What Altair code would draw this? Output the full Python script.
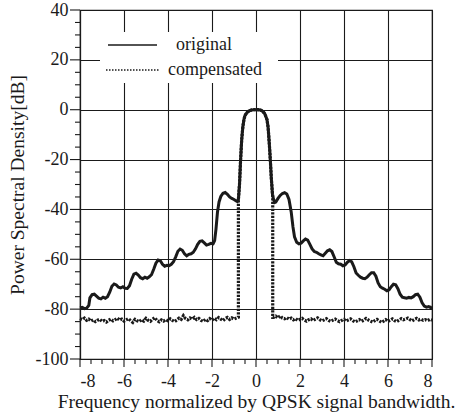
import altair as alt
import pandas as pd

# Power spectral density of the original signal (dB) vs normalized frequency
orig_freq = [
    -8.0, -7.9, -7.8, -7.7, -7.6, -7.55, -7.45, -7.35, -7.25, -7.15, -7.05, -6.95, -6.85,
    -6.75, -6.65, -6.55, -6.45, -6.35, -6.25, -6.15, -6.05, -5.95, -5.85, -5.75, -5.65,
    -5.55, -5.45, -5.35, -5.25, -5.15, -5.05, -4.95, -4.85, -4.75, -4.65, -4.55, -4.45,
    -4.35, -4.25, -4.15, -4.05, -3.95, -3.85, -3.75, -3.65, -3.55, -3.45, -3.35, -3.25,
    -3.15, -3.05, -2.95, -2.85, -2.75, -2.65, -2.55, -2.45, -2.35, -2.25, -2.15, -2.05,
    -1.95, -1.88, -1.82, -1.75, -1.68, -1.6, -1.5, -1.4, -1.3, -1.2, -1.1, -1.0, -0.9,
    -0.85, -0.8, -0.75, -0.7, -0.65, -0.6, -0.55, -0.5, -0.4, -0.3, -0.2, -0.1, 0.0,
    0.1, 0.2, 0.3, 0.4, 0.5, 0.55, 0.6, 0.65, 0.7, 0.75, 0.8, 0.85, 0.9, 1.0, 1.1, 1.2,
    1.3, 1.4, 1.5, 1.6, 1.68, 1.75, 1.85, 1.95, 2.05, 2.15, 2.25, 2.35, 2.45, 2.55, 2.65,
    2.75, 2.85, 2.95, 3.05, 3.15, 3.25, 3.35, 3.45, 3.55, 3.65, 3.75, 3.85, 3.95, 4.05,
    4.15, 4.25, 4.35, 4.45, 4.55, 4.65, 4.75, 4.85, 4.95, 5.05, 5.15, 5.25, 5.35, 5.45,
    5.55, 5.65, 5.75, 5.85, 5.95, 6.05, 6.15, 6.25, 6.35, 6.45, 6.55, 6.65, 6.75, 6.85,
    6.95, 7.05, 7.15, 7.25, 7.35, 7.45, 7.55, 7.65, 7.75, 7.85, 7.95, 8.0,
]
orig_db = [
    -79.5, -79.3, -79.8, -79.6, -78.5, -75.5, -74.2, -74.0, -74.8, -75.6, -75.9, -75.2, -75.6,
    -75.0, -73.2, -70.8, -69.9, -70.3, -71.2, -71.5, -71.0, -71.6, -71.7, -70.6, -68.0,
    -66.0, -65.6, -66.3, -67.4, -67.8, -67.2, -67.6, -67.0, -66.2, -64.0, -61.6, -60.3,
    -60.6, -62.0, -62.8, -62.4, -62.6, -62.0, -61.0, -59.0, -56.8, -55.9, -56.4, -57.8,
    -58.6, -58.0, -57.8, -57.2, -55.8, -54.0, -52.8, -52.6, -53.4, -54.3, -54.0, -53.6,
    -53.8, -52.5, -48.0, -41.0, -37.0, -34.8, -33.5, -33.2, -33.9, -35.0, -35.6, -36.0, -36.6,
    -36.8, -36.0, -30.0, -20.0, -12.0, -7.0, -4.0, -2.3, -1.0, -0.4, -0.1, 0.0, 0.0,
    0.0, -0.1, -0.6, -1.6, -4.0, -7.0, -13.0, -20.0, -28.0, -34.0, -36.0, -37.2, -37.0, -35.6, -34.4, -33.6,
    -33.3, -33.8, -36.0, -41.0, -47.0, -51.0, -53.2, -53.8, -53.5, -52.6, -51.9, -52.3, -54.0, -55.8, -56.9,
    -57.2, -57.8, -58.2, -58.6, -57.6, -56.6, -56.2, -56.9, -59.0, -61.2, -61.8, -62.0, -62.6, -62.3,
    -61.2, -60.5, -61.0, -63.0, -65.5, -66.4, -67.2, -67.6, -67.8, -67.2, -66.2, -65.4, -65.4, -66.8,
    -69.5, -71.0, -71.6, -72.0, -72.6, -72.2, -71.0, -70.0, -70.2, -71.8, -74.0, -75.2, -75.4, -75.6,
    -75.3, -75.5, -75.0, -74.2, -74.0, -75.2, -77.5, -78.8, -79.2, -79.0, -79.4, -79.0,
]

# Compensated signal: residual floor outside the main lobe
comp_left_freq = [
    -8.0, -7.9, -7.8, -7.7, -7.6, -7.5, -7.4, -7.3, -7.2, -7.1,
    -7.0, -6.9, -6.8, -6.7, -6.6, -6.5, -6.4, -6.3, -6.2, -6.1,
    -6.0, -5.9, -5.8, -5.7, -5.6, -5.5, -5.4, -5.3, -5.2, -5.1,
    -5.0, -4.9, -4.8, -4.7, -4.6, -4.5, -4.4, -4.3, -4.2, -4.1,
    -4.0, -3.9, -3.8, -3.7, -3.6, -3.5, -3.4, -3.3, -3.2, -3.1,
    -3.0, -2.9, -2.8, -2.7, -2.6, -2.5, -2.4, -2.3, -2.2, -2.1,
    -2.0, -1.9, -1.8, -1.7, -1.6, -1.5, -1.4, -1.3, -1.2, -1.1,
    -1.0, -0.9, -0.8,
]
comp_left_db = [
    -83.8, -84.2, -83.6, -84.5, -84.0, -84.8, -84.3, -85.0, -84.4, -84.1,
    -84.9, -84.6, -85.2, -84.5, -84.0, -84.7, -84.2, -83.6, -84.4, -84.0,
    -84.8, -84.3, -83.8, -84.6, -85.3, -84.1, -84.7, -85.0, -84.2, -84.8,
    -83.7, -84.5, -84.9, -84.0, -83.4, -84.6, -85.1, -84.3, -84.8, -84.2,
    -84.7, -83.9, -84.5, -85.0, -84.4, -83.6, -84.1, -82.6, -83.8, -84.3,
    -83.5, -84.0, -83.3, -84.2, -83.7, -84.5, -84.9, -84.1, -84.6, -83.8,
    -84.4, -83.6, -84.2, -83.4, -84.0, -84.6, -83.8, -83.3, -84.1, -83.5,
    -84.0, -83.6, -83.2,
]
comp_right_freq = [
    0.8, 0.9, 1.0, 1.1, 1.2, 1.3, 1.4, 1.5, 1.6, 1.7,
    1.8, 1.9, 2.0, 2.1, 2.2, 2.3, 2.4, 2.5, 2.6, 2.7,
    2.8, 2.9, 3.0, 3.1, 3.2, 3.3, 3.4, 3.5, 3.6, 3.7,
    3.8, 3.9, 4.0, 4.1, 4.2, 4.3, 4.4, 4.5, 4.6, 4.7,
    4.8, 4.9, 5.0, 5.1, 5.2, 5.3, 5.4, 5.5, 5.6, 5.7,
    5.8, 5.9, 6.0, 6.1, 6.2, 6.3, 6.4, 6.5, 6.6, 6.7,
    6.8, 6.9, 7.0, 7.1, 7.2, 7.3, 7.4, 7.5, 7.6, 7.7,
    7.8, 7.9, 8.0,
]
comp_right_db = [
    -83.3, -82.8, -83.5, -82.7, -83.6, -83.9, -83.4, -84.0, -83.6, -84.3,
    -83.8, -84.5, -84.1, -83.7, -84.4, -84.8, -84.2, -83.9, -84.6, -84.0,
    -83.5, -84.2, -84.7, -84.3, -83.8, -84.5, -84.9, -84.4, -84.0, -84.6,
    -85.0, -84.5, -84.1, -84.8, -84.3, -83.9, -84.6, -85.1, -84.7, -84.2,
    -84.9, -84.4, -83.7, -84.3, -84.8, -85.2, -84.6, -84.1, -84.7, -85.3,
    -84.8, -84.2, -84.9, -84.5, -83.9, -84.6, -85.0, -84.4, -83.8, -84.3,
    -84.0, -83.6, -84.2, -84.7, -84.1, -83.7, -84.3, -84.0, -84.5, -84.2,
    -84.6, -84.1, -84.4,
]
# Edges of the passband kept by the compensation
band_edge_left = -0.8
band_edge_right = 0.76

# Tick positions: labelled majors and unlabelled minors
x_major = [-8, -6, -4, -2, 0, 2, 4, 6, 8]
x_minor = [-7.5, -7, -6.5, -5.5, -5, -4.5, -3.5, -3, -2.5, -1.5, -1, -0.5,
           0.5, 1, 1.5, 2.5, 3, 3.5, 4.5, 5, 5.5, 6.5, 7, 7.5]
y_major = [-100, -80, -60, -40, -20, 0, 20, 40]
y_minor = [-95, -90, -85, -75, -70, -65, -55, -50, -45, -35, -30, -25,
           -15, -10, -5, 5, 10, 15, 25, 30, 35]

W, H = 352, 349

orig = pd.DataFrame({"f": orig_freq, "db": orig_db})
orig["k"] = range(len(orig))

# Compensated trace: floor, step up at the band edge, main lobe, step down, floor
lobe = orig[(orig.f > band_edge_left) & (orig.f < band_edge_right)]
edge_l = orig.loc[orig.f == band_edge_left, "db"].iloc[0]
comp_f = (comp_left_freq + [band_edge_left] + lobe.f.tolist()
          + [band_edge_right, band_edge_right] + comp_right_freq)
comp_d = (comp_left_db + [edge_l] + lobe.db.tolist()
          + [-35.0, comp_right_db[0]] + comp_right_db)
comp = pd.DataFrame({"f": comp_f, "db": comp_d})
comp["k"] = range(len(comp))

FONT = "Liberation Serif"
INK = "#1a1a1a"

x_scale = alt.Scale(domain=[-8, 8], nice=False, zero=False)
y_scale = alt.Scale(domain=[-100, 40], nice=False, zero=False)

x_axis = alt.Axis(
    values=x_major,
    title="Frequency normalized by QPSK signal bandwidth.",
    labelExpr="'' + datum.value",
    ticks=False,
    labelPadding=13,
    titlePadding=2,
)
y_axis = alt.Axis(
    values=y_major,
    title="Power Spectral Density[dB]",
    labelExpr="'' + datum.value",
    ticks=False,
    labelPadding=12,
    titlePadding=8,
)

orig_line = alt.Chart(orig).mark_line(color=INK, strokeWidth=3).encode(
    x=alt.X("f:Q", scale=x_scale, axis=x_axis),
    y=alt.Y("db:Q", scale=y_scale, axis=y_axis),
    order="k:Q",
)
comp_line = alt.Chart(comp).mark_line(
    color=INK, strokeWidth=3.2, strokeDash=[2.2, 1.3]
).encode(
    x=alt.X("f:Q", scale=x_scale),
    y=alt.Y("db:Q", scale=y_scale),
    order="k:Q",
)

# Outward tick marks along both axes
def x_ticks_layer(vals, length):
    return alt.Chart(pd.DataFrame({"v": vals})).mark_rule(color=INK, strokeWidth=1.1).encode(
        x=alt.X("v:Q", scale=x_scale), y=alt.value(H), y2=alt.value(H + length)
    )

def y_ticks_layer(vals, length):
    return alt.Chart(pd.DataFrame({"v": vals})).mark_rule(color=INK, strokeWidth=1.1).encode(
        y=alt.Y("v:Q", scale=y_scale), x=alt.value(-length), x2=alt.value(0)
    )

ticks = [
    x_ticks_layer(x_major, 8), x_ticks_layer(x_minor, 5),
    y_ticks_layer(y_major, 10), y_ticks_layer(y_minor, 5),
]

# Legend panel (white, over the grid) with line samples and labels
one = pd.DataFrame({"a": [0]})
legend_bg = alt.Chart(one).mark_rect(color="white").encode(
    x=alt.value(20), x2=alt.value(198), y=alt.value(22), y2=alt.value(73)
)
leg_orig = alt.Chart(one).mark_rule(color=INK, strokeWidth=1.6).encode(
    x=alt.value(28), x2=alt.value(77), y=alt.value(35)
)
leg_comp = alt.Chart(one).mark_rule(
    color=INK, strokeWidth=1.6, strokeDash=[1.5, 1.5]
).encode(x=alt.value(26), x2=alt.value(80), y=alt.value(60))
leg_text = alt.Chart(
    pd.DataFrame({"t": ["original", "compensated"], "yy": [35, 60], "xx": [96, 88]})
).mark_text(
    font=FONT, fontSize=18, align="left", baseline="middle", color=INK
).encode(text="t:N", x=alt.X("xx:Q", scale=None), y=alt.Y("yy:Q", scale=None))

chart = alt.layer(
    legend_bg, orig_line, comp_line, *ticks, leg_orig, leg_comp, leg_text
).properties(
    width=W,
    height=H,
    autosize=alt.AutoSizeParams(type="none"),
    padding={"left": 80, "top": 10, "right": 30, "bottom": 57},
    background="white",
).configure_view(
    stroke=INK, strokeWidth=1.2
).configure_axis(
    labelFont=FONT, labelFontSize=18, labelColor=INK,
    titleFont=FONT, titleFontSize=19.5, titleFontWeight="normal", titleColor=INK,
    gridColor=INK, gridWidth=1.1, domainColor=INK, domainWidth=1.2,
)

chart.save("out.html", embed_options={"renderer": "svg", "actions": False})
